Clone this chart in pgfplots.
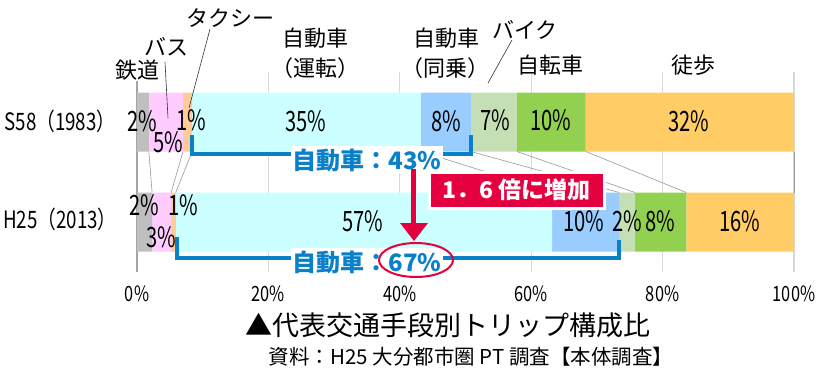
\documentclass[border=0pt]{standalone}
\usepackage{fontspec}
\usepackage{graphicx}
\usepackage{pgfplots}
\pgfplotsset{compat=1.18}
\setmainfont{Noto Sans CJK JP}
\newfontfamily\nfont[FakeStretch=0.78]{Noto Sans CJK JP}
\newfontfamily\mfont[FakeStretch=0.72]{Noto Sans CJK JP}
\definecolor{cGray}{HTML}{BFBFBF}
\definecolor{cPink}{HTML}{FFCCFF}
\definecolor{cTan}{HTML}{FFCC99}
\definecolor{cCyan}{HTML}{CCFFFF}
\definecolor{cBlue}{HTML}{99CCFF}
\definecolor{cLGreen}{HTML}{C4DFB4}
\definecolor{cGreen}{HTML}{92D050}
\definecolor{cOrange}{HTML}{FFCC66}
\definecolor{aBlue}{HTML}{0A80C8}
\definecolor{aRed}{HTML}{E5003F}
\newcommand\pf{\mfont\fontsize{28}{28}\selectfont}
\newcommand\hf{\fontsize{22}{24}\selectfont}
\begin{document}
\begin{tikzpicture}
\useasboundingbox (0pt,0pt) rectangle (829pt,-373pt);
\begin{axis}[
  at={(137pt,-272pt)}, anchor=south west,
  scale only axis, width=657pt, height=200pt,
  xbar stacked, bar width=59pt,
  xmin=0, xmax=100, ymin=-0.5, ymax=1.5,
  ytick=\empty,
  xtick={0,20,40,60,80,100},
  xticklabels={0\%,20\%,40\%,60\%,80\%,100\%},
  xticklabel style={font=\nfont\fontsize{21}{21}\selectfont, anchor=center, yshift=-22pt},
  major tick length=0pt,
  xmajorgrids, grid style={draw=black!15, line width=1.3pt},
  axis lines*=left,
  x axis line style={draw=none},
  y axis line style={draw=black!35, line width=1.3pt},
  clip=false,
]
\addplot[fill=cGray, draw=none] coordinates {(1.8,1) (2.3,0)};
\addplot[fill=cPink, draw=none] coordinates {(5.2,1) (2.9,0)};
\addplot[fill=cTan, draw=none] coordinates {(1.4,1) (0.7,0)};
\addplot[fill=cCyan, draw=none] coordinates {(34.8,1) (57.3,0)};
\addplot[fill=cBlue, draw=none] coordinates {(7.6,1) (10.2,0)};
\addplot[fill=cLGreen, draw=none] coordinates {(7.0,1) (2.4,0)};
\addplot[fill=cGreen, draw=none] coordinates {(10.5,1) (7.8,0)};
\addplot[fill=cOrange, draw=none] coordinates {(31.7,1) (16.4,0)};
\end{axis}
\begin{axis}[
  at={(137pt,-272pt)}, anchor=south west,
  scale only axis, width=657pt, height=200pt,
  xmin=0, xmax=100, ymin=-0.5, ymax=1.5,
  hide axis, clip=false,
]
\addplot[black!40, line width=0.6pt, no marks] coordinates {(1.8,0.705) (2.3,0.295)};
\addplot[black!40, line width=0.6pt, no marks] coordinates {(7.0,0.705) (5.2,0.295)};
\addplot[black!40, line width=0.6pt, no marks] coordinates {(8.4,0.705) (5.9,0.295)};
\addplot[black!40, line width=0.6pt, no marks] coordinates {(43.2,0.705) (63.2,0.295)};
\addplot[black!40, line width=0.6pt, no marks] coordinates {(50.8,0.705) (73.4,0.295)};
\addplot[black!40, line width=0.6pt, no marks] coordinates {(57.8,0.705) (75.8,0.295)};
\addplot[black!40, line width=0.6pt, no marks] coordinates {(68.3,0.705) (83.6,0.295)};
\addplot[black!40, line width=0.6pt, no marks] coordinates {(100,0.705) (100,0.295)};
\end{axis}
\begin{scope}[x=1pt, y=-1pt]
% row labels
\node[font=\nfont\fontsize{24}{24}\selectfont] at (60,121) {S58（1983）};
\node[font=\nfont\fontsize{24}{24}\selectfont] at (60,219) {H25（2013）};
% header labels
\node[font=\hf, fill=white, inner sep=1pt] at (137,70) {鉄道};
\node[font=\hf] at (166,47) {バス};
\node[font=\hf] at (230,18) {タクシー};
\node[font=\hf] at (315,38) {自動車};
\node[font=\hf] at (315,68) {（運転）};
\node[font=\hf] at (446,38) {自動車};
\node[font=\hf] at (445,68) {（同乗）};
\node[font=\hf] at (525,30) {バイク};
\node[font=\hf] at (550,65) {自転車};
\node[font=\hf] at (693,65) {徒歩};
% leader lines
\draw[black!80, line width=0.6pt] (165,62) -- (168,118);
\draw[black!80, line width=0.6pt] (210,29) -- (189,108);
\draw[black!80, line width=0.6pt] (512,40) -- (488,83);
% S58 labels
\node[font=\pf, inner sep=1pt] at (142,121) {2\%};
\node[font=\pf, inner sep=1pt] at (168,142) {5\%};
\node[font=\pf, inner sep=1pt] at (191,120) {1\%};
\node[font=\pf] at (306,121) {35\%};
\node[font=\pf] at (446,121) {8\%};
\node[font=\pf] at (495,120) {7\%};
\node[font=\pf] at (551,120) {10\%};
\node[font=\pf] at (689,121) {32\%};
% H25 labels
\node[font=\pf, inner sep=1pt] at (144,205) {2\%};
\node[font=\pf, inner sep=1pt] at (161,237) {3\%};
\node[font=\pf, inner sep=1pt] at (183,205) {1\%};
\node[font=\pf] at (363,221) {57\%};
\node[font=\pf] at (584,221) {10\%};
\node[font=\pf, inner sep=1pt] at (627,221) {2\%};
\node[font=\pf, inner sep=1pt] at (660,221) {8\%};
\node[font=\pf] at (740,221) {16\%};
% blue brackets
\draw[aBlue, line width=4pt] (192,135) -- (192,154) -- (453,154) -- (471,154) -- (471,135);
\draw[aBlue, line width=4pt] (177,237) -- (177,258) -- (619,258) -- (619,240);
\node[font=\fontsize{24}{24}\selectfont\bfseries, text=aBlue, fill=white, inner sep=2pt] at (367,160) {自動車：43\%};
\node[font=\fontsize{24}{24}\selectfont\bfseries, text=aBlue, fill=white, inner sep=2pt] at (367,262) {自動車：67\%};
\draw[aRed, line width=2pt] (416,260) ellipse [x radius=37pt, y radius=17pt];
% arrow
\draw[aRed, line width=5pt] (413,169) -- (413,225);
\fill[aRed] (400,223) -- (428,223) -- (414,241) -- cycle;
% box
\node[fill=aRed, draw=white, line width=3pt, text=white, minimum width=175pt, minimum height=36pt, inner sep=0pt, font=\fontsize{23}{23}\selectfont\bfseries] at (516.5,190) {1．6 倍に増加};
% title
\node[font=\fontsize{27}{27}\selectfont] at (448,325) {▲代表交通手段別トリップ構成比};
\node[font=\fontsize{20.5}{20.5}\selectfont] at (471,357) {資料：H25 大分都市圏 PT 調査【本体調査】};
\end{scope}
\end{tikzpicture}
\end{document}
